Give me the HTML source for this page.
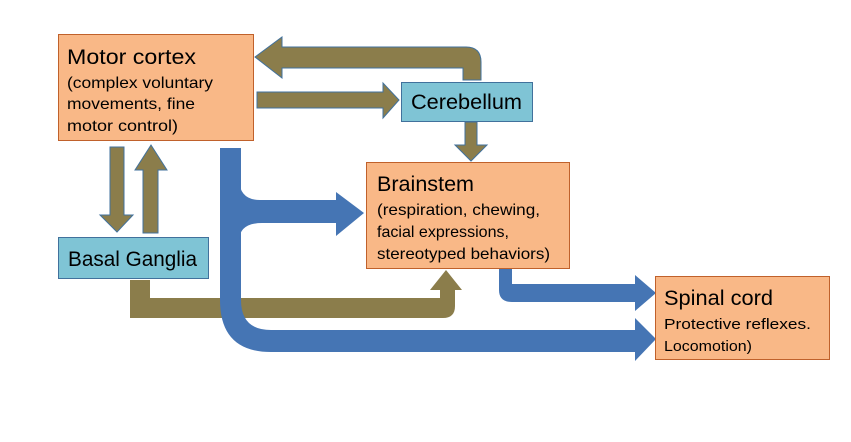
<!DOCTYPE html>
<html><head><meta charset="utf-8"><style>
body{margin:0;background:#fff;width:851px;height:442px;overflow:hidden}
svg{display:block}
text{font-family:"Liberation Sans",sans-serif;fill:#000}
</style></head><body>
<svg width="851" height="442" viewBox="0 0 851 442">
<g fill="#8b7d4b" stroke="#41719c" stroke-width="1">
<path d="M463,80 L463,68 L282,68 L282,78 L255,57 L282,37 L282,47 L466,47 Q481,47 481,62 L481,80 Z"/>
<path d="M257,92 L383,92 L383,83 L399,100 L383,118 L383,108 L257,108 Z"/>
<path d="M465,122 L477,122 L477,145 L487,145 L471,161 L455,145 L465,145 Z"/>
<path d="M110,147 L124,147 L124,215 L133,215 L117,232 L100,215 L110,215 Z"/>
<path d="M143,233 L158,233 L158,170 L167,170 L151,145 L135,170 L143,170 Z"/>
</g>
<path d="M130,280 L150,280 L150,298 L440,298 L440,290 L430,290 L446,270 L462,290 L455,290 L455,306 Q455,318 443,318 L130,318 Z" fill="#8b7d4b"/>
<g fill="#4575b4">
<path d="M220,148 L241,148 L241,300 Q241,330 271,330 L635,330 L635,318 L656,339 L635,361 L635,352 L271,352 Q220,352 220,300 Z"/>
<path d="M239,180 Q240,200 260,200 L336,200 L336,192 L364,213 L336,236 L336,223 L262,223 Q240,223 239,240 Z"/>
<path d="M499,269 L512,269 L512,284 L635,284 L635,275 L656,293 L635,311 L635,302 L512,302 Q499,302 499,290 Z"/>
</g>
<g stroke="#c0612b" stroke-width="1" fill="#f9b887">
<rect x="58.5" y="34.5" width="195" height="106"/>
<rect x="366.5" y="162.5" width="203" height="106"/>
<rect x="655.5" y="276.5" width="174" height="83"/>
</g>
<g stroke="#41719c" stroke-width="1" fill="#7fc4d5">
<rect x="401.5" y="82.5" width="131" height="39"/>
<rect x="58.5" y="237.5" width="150" height="41"/>
</g>
<g lengthAdjust="spacingAndGlyphs">
<text x="67" y="64" font-size="21" textLength="129" lengthAdjust="spacingAndGlyphs">Motor cortex</text>
<text x="67" y="88" font-size="16" textLength="146" lengthAdjust="spacingAndGlyphs">(complex voluntary</text>
<text x="67" y="109" font-size="16" textLength="128" lengthAdjust="spacingAndGlyphs">movements, fine</text>
<text x="67" y="131" font-size="16" textLength="111" lengthAdjust="spacingAndGlyphs">motor control)</text>
<text x="411" y="109" font-size="21" textLength="111" lengthAdjust="spacingAndGlyphs">Cerebellum</text>
<text x="377" y="191" font-size="21" textLength="97" lengthAdjust="spacingAndGlyphs">Brainstem</text>
<text x="377" y="215" font-size="16" textLength="163" lengthAdjust="spacingAndGlyphs">(respiration, chewing,</text>
<text x="377" y="237" font-size="16" textLength="132" lengthAdjust="spacingAndGlyphs">facial expressions,</text>
<text x="377" y="259" font-size="16" textLength="173" lengthAdjust="spacingAndGlyphs">stereotyped behaviors)</text>
<text x="68" y="266" font-size="21" textLength="129" lengthAdjust="spacingAndGlyphs">Basal Ganglia</text>
<text x="664" y="305" font-size="21" textLength="109" lengthAdjust="spacingAndGlyphs">Spinal cord</text>
<text x="664" y="329" font-size="15" textLength="147" lengthAdjust="spacingAndGlyphs">Protective reflexes.</text>
<text x="664" y="351" font-size="15" textLength="88" lengthAdjust="spacingAndGlyphs">Locomotion)</text>
</g>
</svg>
</body></html>
